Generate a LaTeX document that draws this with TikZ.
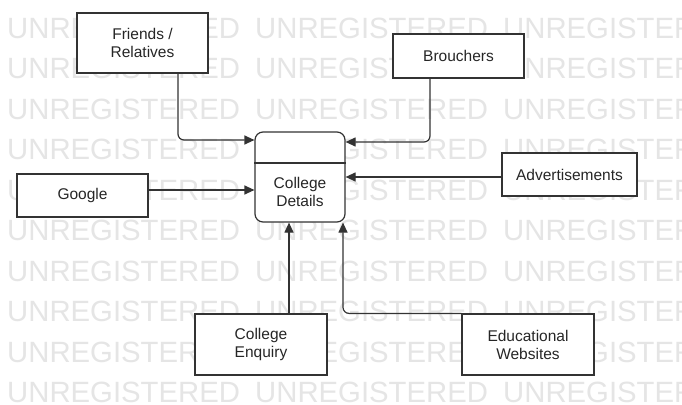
\documentclass[tikz,border=0pt]{standalone}
\usepackage{fontspec}
\setmainfont{Liberation Sans}
\usetikzlibrary{arrows.meta}
\tikzset{txt/.style={text=black!85,align=center,font=\fontsize{15.5}{18}\selectfont,inner sep=0pt},
 box/.style={txt,draw=black!80,line width=1.2pt,fill=white},
 arr/.style={draw=black!80,line width=1.2pt,-{Triangle[length=10pt,width=9pt]},rounded corners=6pt},
 wm/.style={text=black!10,font=\fontsize{29.3}{30}\selectfont,inner sep=0pt,anchor=west}}

\begin{document}
\begin{tikzpicture}[x=1pt,y=-1pt]
 		\clip (0,0) rectangle (682,404);
 		\fill[white] (0,0) rectangle (682,404);
 		\foreach \r in {0,...,9}
 		 \foreach \c in {0,1,2}
 		  \node[wm] (wm\r\c) at (7+248*\c,28+40.5*\r) {UNREGISTERED};

 		\node[box,minimum width=131pt,minimum height=60pt] (friends) at (142.5,43) {Friends /\\Relatives};
 		\node[box,minimum width=131pt,minimum height=44pt] (brouchers) at (458.5,56) {Brouchers};
 		\node[box,minimum width=131pt,minimum height=43pt] (google) at (82.5,195.5) {Google};
 		\node[box,minimum width=135pt,minimum height=43pt] (adverts) at (569.5,174.5) {Advertisements};
 		\node[box,minimum width=132pt,minimum height=61pt] (enquiry) at (261,344.5) {College\\Enquiry};
 		\node[box,minimum width=132pt,minimum height=61pt] (websites) at (528,344.5) {Educational\\Websites};

 		\node[draw=black!80,line width=1.2pt,fill=white,rounded corners=8pt,minimum width=90pt,minimum height=90pt] (details) at (300,177) {};
 		\draw[draw=black!80,line width=1.2pt] (details.west |- 0,163) -- (details.east |- 0,163);
 		\node[txt] (detailsname) at (300,192) {College\\Details};

 		\draw[arr] ([xshift=35.5pt]friends.south) |- (details.west |- 0,140);
 		\draw[arr] ([yshift=5.5pt]google.east) -- (details.west |- 0,190);
 		\draw[arr] ([xshift=-28.5pt]brouchers.south) |- (details.east |- 0,142);
 		\draw[arr] (adverts.west |- details.east) -- (details.east);
 		\draw[arr] (enquiry.north -| 289,0) -- (details.south -| 289,0);
 		\draw[arr] (websites.north west) -| (details.south -| 343,0);
 	 \end{tikzpicture}
\end{document}
